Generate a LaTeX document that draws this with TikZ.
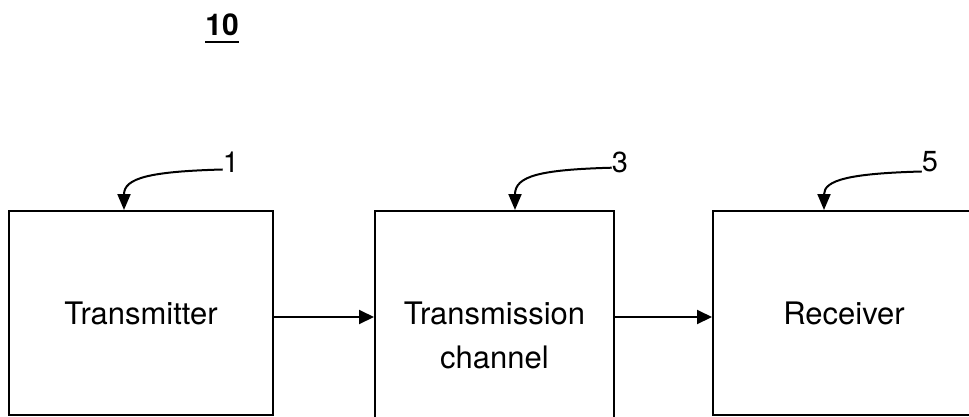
\documentclass[tikz,border=0pt]{standalone}
\usepackage{fontspec}
\setmainfont{TeX Gyre Heros}
\usetikzlibrary{arrows.meta, positioning, calc}
\tikzset{
  blockbox/.style 2 args={draw, line width=2pt, anchor=north, align=center,
    minimum width=#1, minimum height=#2, inner sep=0pt,
    font=\fontsize{31}{44}\selectfont},
  refnum/.style={inner sep=0pt, font=\fontsize{29}{29}\selectfont},
  leader/.style={line width=2pt, -{Triangle[length=16pt,width=13pt]}},
  flow/.style={line width=2pt, -{Triangle[length=15pt,width=14pt]}}
}

\begin{document}
\begin{tikzpicture}[x=1pt, y=-1pt]
    \path[use as bounding box, clip] (0,0) rectangle (969,416);
    % Title
    \node[inner sep=0pt, font=\fontsize{30}{30}\selectfont\bfseries] (fig) at (222,25) {10};
    \draw[line width=2.5pt] ([yshift=-6pt]fig.south west) -- ([yshift=-6pt]fig.south east);
    % Blocks
    \node[blockbox={264pt}{204pt}] (tx) at (141,210) {Transmitter};
    \node[blockbox={239pt}{248pt}] (chan) at (494.5,210) {Transmission\\channel};
    \node[blockbox={262pt}{204pt}] (rx) at (844,210) {Receiver};
    % Reference numerals
    \node[refnum] (n1) at (231,162) {1};
    \node[refnum] (n3) at (620,162) {3};
    \node[refnum] (n5) at (930,162) {5};
    \draw[leader] ([yshift=3pt]n1.south west) .. controls +(-73,2) and +(0,-32) .. ([xshift=-17pt]tx.north);
    \draw[leader] ([yshift=5pt]n3.south west) .. controls +(-72,2) and +(0,-34) .. ([xshift=20.5pt]chan.north);
    \draw[leader] ([yshift=1pt]n5.south west) .. controls +(-72,2) and +(0,-30) .. ([xshift=-20pt]rx.north);
    % Signal flow
    \coordinate (txout) at ([yshift=-4pt]tx.east);
    \draw[flow] (txout) -- (chan.west |- txout);
    \draw[flow] (chan.east |- txout) -- (rx.west |- txout);
\end{tikzpicture}
\end{document}
